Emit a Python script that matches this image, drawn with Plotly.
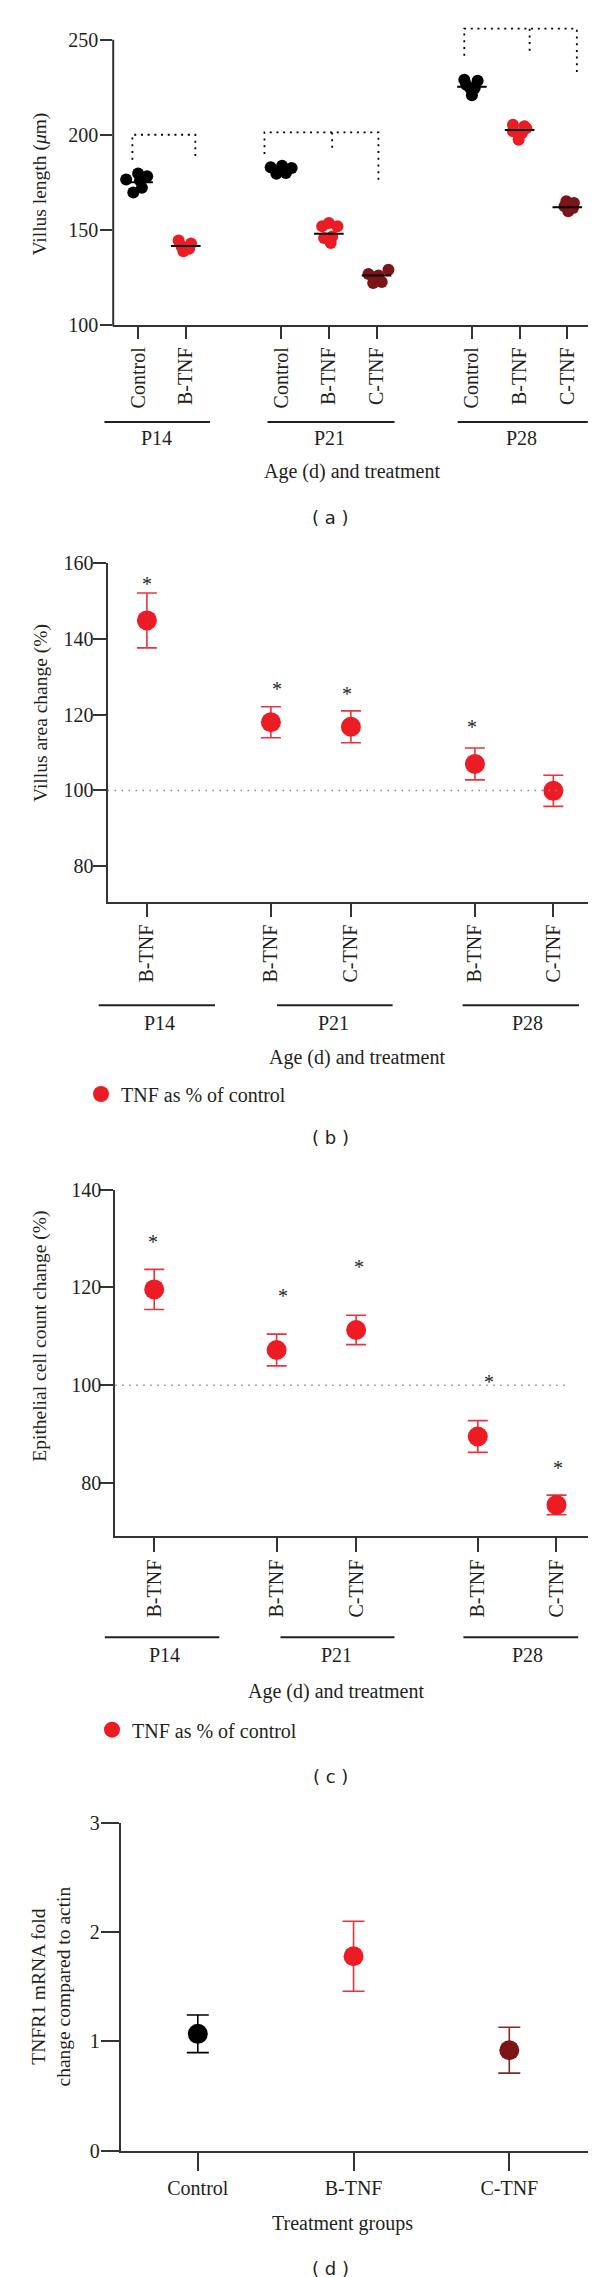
import plotly.graph_objects as go

W, H = 600, 2277
SERIF = "Liberation Serif, Times New Roman, serif"
SANS = "DejaVu Sans, Verdana, sans-serif"
INK = "#231f20"
AXIS = "#333333"
BLACK = "#000000"
RED = "#ec1c24"
DARK = "#7b1518"
ERR_RED = "#e8343b"
ERR_DARK = "#7d2a2c"

# ---------------- data: panel (a) villus length ----------------
a_ages = ["P14", "P21", "P28"]
a_labels = ["Control", "B-TNF", "Control", "B-TNF", "C-TNF", "Control", "B-TNF", "C-TNF"]
a_values = [
    [176.6, 179.7, 178.3, 169.8, 172.3, 176.0],   # P14 Control
    [144.6, 143.0, 138.9, 140.2, 141.5],          # P14 B-TNF
    [183.0, 183.8, 182.6, 179.6, 180.0, 181.7],   # P21 Control
    [152.0, 153.7, 152.0, 145.9, 143.2, 146.7],   # P21 B-TNF
    [126.9, 126.2, 129.2, 122.2, 122.7],          # P21 C-TNF
    [229.0, 228.5, 224.6, 226.4, 220.8, 224.6],   # P28 Control
    [205.4, 204.5, 197.5, 201.0, 201.9, 203.5],   # P28 B-TNF
    [165.1, 164.2, 159.9, 162.5, 161.6],          # P28 C-TNF
]
a_medians = [175.1, 141.7, 181.9, 148.1, 126.2, 225.3, 202.6, 162.0]
a_ticks = [100, 150, 200, 250]
# significance brackets: top level and the lower end of every leg
a_bracket_top = [200.1, 201.3, 255.8]
a_bracket_bottom = [[187.0, 187.5], [190.0, 191.4, 176.0], [241.6, 244.2, 231.6]]

# ---------------- data: panel (b) villus area ----------------
bc_ages = ["P14", "P21", "P28"]
bc_labels = ["B-TNF", "B-TNF", "C-TNF", "B-TNF", "C-TNF"]
b_mean = [144.85, 118.0, 116.8, 107.0, 99.9]
b_sem = [7.25, 4.1, 4.2, 4.2, 4.1]
b_star = [155.6, 127.7, 126.4, 117.8, None]
b_ticks = [80, 100, 120, 140, 160]

# ---------------- data: panel (c) epithelial cell count ----------------
c_mean = [119.6, 107.2, 111.3, 89.5, 75.5]
c_sem = [4.1, 3.25, 3.0, 3.25, 2.0]
c_star = [130.1, 119.1, 125.0, 101.5, 83.9]
c_ticks = [80, 100, 120, 140]

# ---------------- data: panel (d) TNFR1 mRNA ----------------
d_labels = ["Control", "B-TNF", "C-TNF"]
d_mean = [1.07, 1.78, 0.92]
d_sem = [0.172, 0.32, 0.21]
d_ticks = [0, 1, 2, 3]

reference_level = 100
legend_name = "TNF as % of control"

# ---------------- layout constants (pixel geometry) ----------------
def fx(px):
    return px / W

def fy(py):
    return 1 - py / H

a_xpos = [0, 1, 3, 4, 5, 7, 8, 9]
a_jitter = [
    [-0.25, 0.0, 0.19, -0.10, 0.08, 0.04],
    [-0.15, 0.11, -0.05, 0.07, -0.09],
    [-0.22, 0.02, 0.22, -0.10, 0.10, 0.0],
    [-0.14, 0.0, 0.18, -0.10, 0.04, 0.07],
    [-0.17, 0.04, 0.25, -0.07, 0.11],
    [-0.16, 0.12, -0.04, -0.12, 0.0, 0.06],
    [-0.14, 0.10, -0.02, 0.05, -0.14, 0.14],
    [-0.02, 0.14, 0.02, -0.06, 0.12],
]
a_bracket_x = [[-0.12, 1.20], [2.65, 4.07, 5.04], [6.84, 8.21, 9.20]]
a_median_half = 0.31
b_xpos = [0, 1.55, 2.55, 4.1, 5.08]
c_xpos = [0, 1.54, 2.54, 4.07, 5.06]
d_xpos = [0, 1, 2]
b_star_shift = [0, 6, -4, -3, 0]
c_star_shift = [-1, 6, 3, 11, 2]

# panel boxes (px): x0, x1, ytop, ybottom
A_BOX = (105.2, 579.8, 16.5, 317.3)
B_BOX = (99.5, 579.8, 555.0, 893.7)
C_BOX = (107.2, 579.8, 1181.7, 1527.7)
D_BOX = (112.8, 579.8, 1815.0, 2142.7)
A_YR = [100, 258]
B_YR = [70.66, 160]
C_YR = [69.2, 140]
D_YR = [0, 3]
A_XR = [-0.522, 9.43]
B_XR = [-0.4925, 5.511]
C_XR = [-0.4906, 5.454]
D_XR = [-0.4944, 2.504]

FS = 20

treat_color = {"Control": BLACK, "B-TNF": RED, "C-TNF": DARK}

fig = go.Figure()

# ---------- panel (a) ----------
for i, lab in enumerate(a_labels):
    fig.add_trace(go.Scatter(
        x=[a_xpos[i] + j for j in a_jitter[i]], y=a_values[i],
        mode="markers", xaxis="x", yaxis="y", showlegend=False,
        marker=dict(size=12, color=treat_color[lab], line=dict(width=0)),
        hoverinfo="skip"))
mx, my = [], []
for i, m in enumerate(a_medians):
    mx += [a_xpos[i] - a_median_half, a_xpos[i] + a_median_half, None]
    my += [m, m, None]
fig.add_trace(go.Scatter(x=mx, y=my, mode="lines", xaxis="x", yaxis="y",
                         line=dict(color=BLACK, width=2), showlegend=False, hoverinfo="skip"))
for bx, bb, bt in zip(a_bracket_x, a_bracket_bottom, a_bracket_top):
    xs = [bx[0], bx[0], bx[-1], bx[-1]]
    ys = [bb[0], bt, bt, bb[-1]]
    for xm, ym in zip(bx[1:-1], bb[1:-1]):
        xs += [None, xm, xm]
        ys += [None, bt, ym]
    fig.add_trace(go.Scatter(x=xs, y=ys, mode="lines", xaxis="x", yaxis="y",
                             line=dict(color=BLACK, width=1.8, dash="2px,4.7px"),
                             showlegend=False, hoverinfo="skip"))

# ---------- panels (b), (c) ----------
def add_pct_panel(xa, ya, xpos, mean, sem, legend_id):
    fig.add_trace(go.Scatter(
        x=xpos, y=mean, mode="markers", xaxis=xa, yaxis=ya, name=legend_name,
        legend=legend_id, showlegend=True,
        marker=dict(size=20, color=RED),
        error_y=dict(type="data", array=sem, color=ERR_RED, thickness=1.6, width=10),
        hoverinfo="skip"))

add_pct_panel("x2", "y2", b_xpos, b_mean, b_sem, "legend")
add_pct_panel("x3", "y3", c_xpos, c_mean, c_sem, "legend2")

# ---------- panel (d) ----------
d_err_color = {"Control": BLACK, "B-TNF": ERR_RED, "C-TNF": ERR_DARK}
for i, lab in enumerate(d_labels):
    fig.add_trace(go.Scatter(
        x=[d_xpos[i]], y=[d_mean[i]], mode="markers", xaxis="x4", yaxis="y4",
        showlegend=False, marker=dict(size=20, color=treat_color[lab]),
        error_y=dict(type="data", array=[d_sem[i]], color=d_err_color[lab], thickness=1.6, width=11),
        hoverinfo="skip"))

# ---------- axes ----------
tickfont = dict(family=SERIF, size=FS, color=INK)

def xaxis(box, rng, anchor, vals, text, angle, ticklen):
    return dict(domain=[fx(box[0]), fx(box[1])], range=rng, anchor=anchor,
                tickmode="array", tickvals=vals, ticktext=text, tickangle=angle,
                ticks="outside", ticklen=ticklen, tickwidth=2, tickcolor=AXIS,
                showline=True, linecolor=AXIS, linewidth=2, showgrid=False,
                zeroline=False, tickfont=tickfont, fixedrange=True, automargin=False)

def yaxis(box, rng, anchor, vals, ticklen, standoff, showline=True):
    return dict(domain=[fy(box[3]), fy(box[2])], range=rng, anchor=anchor,
                tickmode="array", tickvals=vals,
                ticks="outside", ticklen=ticklen, tickwidth=2, tickcolor=AXIS,
                ticklabelstandoff=standoff,
                showline=showline, linecolor=AXIS, linewidth=2, showgrid=False,
                zeroline=False, tickfont=tickfont, fixedrange=True, automargin=False)

fig.update_layout(
    xaxis=xaxis(A_BOX, A_XR, "y", a_xpos, a_labels, -90, 12),
    yaxis=yaxis(A_BOX, A_YR, "x", a_ticks, 12, -2, showline=False),
    xaxis2=xaxis(B_BOX, B_XR, "y2", b_xpos, bc_labels, -90, 13),
    yaxis2=yaxis(B_BOX, B_YR, "x2", b_ticks, 13, -5),
    xaxis3=xaxis(C_BOX, C_XR, "y3", c_xpos, bc_labels, -90, 14),
    yaxis3=yaxis(C_BOX, C_YR, "x3", c_ticks, 14, -6),
    xaxis4=xaxis(D_BOX, D_XR, "y4", d_xpos, d_labels, 0, 18),
    yaxis4=yaxis(D_BOX, D_YR, "x4", d_ticks, 18, -3),
)

# y-axis line of panel (a) stops at the top tick (brackets go above it)
a_px_per_unit = (A_BOX[3] - A_BOX[2]) / (A_YR[1] - A_YR[0])
def a_val_py(v):
    return A_BOX[3] - (v - A_YR[0]) * a_px_per_unit

shapes = [dict(type="line", xref="paper", yref="paper",
               x0=fx(A_BOX[0]), x1=fx(A_BOX[0]), y0=fy(A_BOX[3] + 1), y1=fy(a_val_py(a_ticks[-1])),
               line=dict(color=AXIS, width=2))]

# dotted 100% reference lines
for xa, ya, xr, xend in (("x2", "y2", B_XR, 5.23), ("x3", "y3", C_XR, 5.19)):
    shapes.append(dict(type="line", xref=xa, yref=ya, x0=xr[0], x1=xend,
                       y0=reference_level, y1=reference_level,
                       line=dict(color="#8a8a8a", width=1.5, dash="1.5px,5.5px")))

# group lines under tick labels
group_lines = [
    (414.0, [(96.4, 202.0), (259.5, 386.5), (449.7, 579.8)]),
    (997.3, [(90.7, 207.0), (269.0, 384.6), (454.6, 571.0)]),
    (1629.3, [(96.8, 211.3), (272.5, 386.5), (455.4, 570.2)]),
]
for yline, segs in group_lines:
    for x0, x1 in segs:
        shapes.append(dict(type="line", xref="paper", yref="paper",
                           x0=fx(x0), x1=fx(x1), y0=fy(yline), y1=fy(yline),
                           line=dict(color=INK, width=2)))

annotations = []

def text(x, y, s, size=FS, family=SERIF, angle=0, xanchor="center"):
    annotations.append(dict(x=fx(x), y=fy(y), xref="paper", yref="paper", text=s,
                            showarrow=False, textangle=angle, xanchor=xanchor,
                            yanchor="middle", font=dict(family=family, size=size, color=INK)))

group_label_pos = [
    (430.0, [148.5, 321.5, 513.6]),
    (1015.0, [151.2, 325.3, 519.7]),
    (1647.3, [156.1, 328.4, 519.7]),
]
for (yl, xs), ages in zip(group_label_pos, [a_ages, bc_ages, bc_ages]):
    for x, age in zip(xs, ages):
        text(x, yl, age)

text(344.4, 463.0, "Age (d) and treatment")
text(349.0, 1049.0, "Age (d) and treatment")
text(328.4, 1683.3, "Age (d) and treatment")
text(334.0, 2215.0, "Treatment groups")

text(31.6, 176.0, "Villus length (<i>μ</i>m)", size=19.5, angle=-90)
text(33.0, 705.0, "Villus area change (%)", size=19.5, angle=-90)
text(31.7, 1328.0, "Epithelial cell count change (%)", size=19.5, angle=-90)
text(42.5, 1979.0, "TNFR1 mRNA fold<br>change compared to actin", size=19.5, angle=-90)

for lab, y in (("( a )", 510.0), ("( b )", 1130.0), ("( c )", 1768.5), ("( d )", 2260.0)):
    text(322.6, y, lab, size=18, family=SANS)

for xa, ya, xpos, stars, shifts in (("x2", "y2", b_xpos, b_star, b_star_shift),
                                    ("x3", "y3", c_xpos, c_star, c_star_shift)):
    for x, s, sh in zip(xpos, stars, shifts):
        if s is None:
            continue
        annotations.append(dict(x=x, y=s, xref=xa, yref=ya, text="*", showarrow=False,
                                xshift=sh, yshift=-4, yanchor="middle",
                                font=dict(family=SERIF, size=FS, color=INK)))

legend_style = dict(xanchor="left", yanchor="middle", bgcolor="rgba(0,0,0,0)",
                    borderwidth=0, font=dict(family=SERIF, size=FS, color=INK),
                    itemsizing="trace")

fig.update_layout(
    width=W, height=H, autosize=False,
    margin=dict(l=0, r=0, t=0, b=0, pad=0, autoexpand=False),
    paper_bgcolor="white", plot_bgcolor="white",
    shapes=shapes, annotations=annotations,
    legend=dict(x=fx(73), y=fy(1086), **legend_style),
    legend2=dict(x=fx(84), y=fy(1721.7), **legend_style),
    showlegend=True,
)

fig.write_html("out.html")
